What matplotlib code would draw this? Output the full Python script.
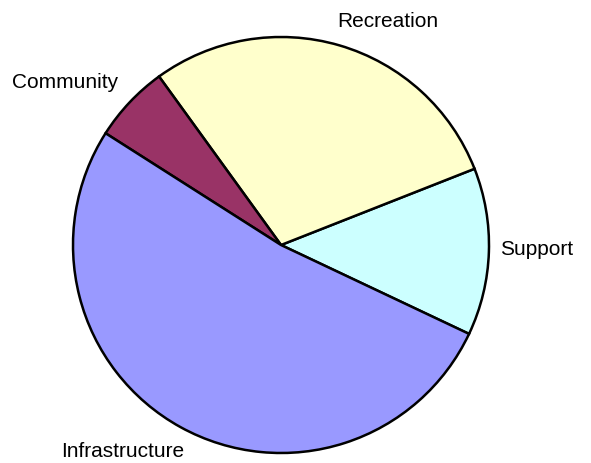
#!/usr/bin/env python3

import matplotlib
matplotlib.use('Agg')
import matplotlib.pyplot as plt

# share of spending by area (percent)
categories = ['Support', 'Recreation', 'Community', 'Infrastructure']
shares = [13, 29, 6, 52]
colours = ['#CCFFFF', '#FFFFCC', '#993366', '#9999FF']

# label centres, in pie radius units
label_xy = [(1.231, -0.019), (0.512, 1.078), (-1.039, 0.787), (-0.762, -0.989)]

plt.rcParams['font.family'] = ['Liberation Sans', 'DejaVu Sans']

fig = plt.figure(figsize=(5.91, 4.64), dpi=100)
ax = fig.add_axes([0, 0, 1, 1])

wedges, _ = ax.pie(shares, colors=colours, startangle=-25.3, counterclock=True,
                   radius=1.0,
                   wedgeprops=dict(edgecolor='black', linewidth=1.8))

for name, (x, y) in zip(categories, label_xy):
    ax.text(x, y, name, ha='center', va='center', fontsize=15, color='black')

ax.set_aspect('auto')
ax.set_xlim(-281 / 208, (591 - 281) / 208)
ax.set_ylim((246 - 464) / 208, 246 / 208)
ax.axis('off')

fig.savefig('out.png', dpi=100)
